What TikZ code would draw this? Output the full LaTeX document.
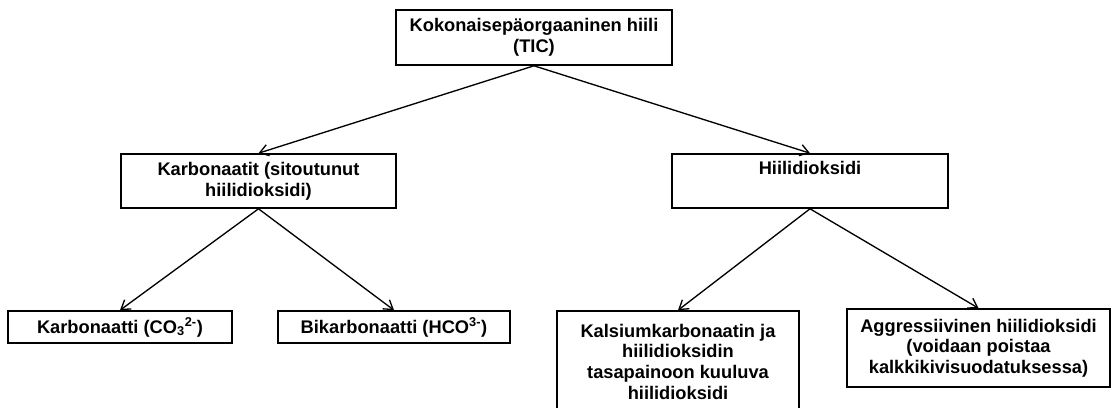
\documentclass[tikz,border=0pt]{standalone}
\usepackage{fontspec}
\setmainfont{Liberation Sans}
\usetikzlibrary{arrows.meta}
\begin{document}
\begin{tikzpicture}[x=0.75pt,y=-0.75pt,
		box/.style={draw,line width=1.2pt,inner sep=0pt,align=center,font=\fontsize{13.7}{15.5}\selectfont\bfseries},
		arr/.style={line width=1pt,-{Straight Barb[length=6.5pt,width=8.5pt]}}]
	\useasboundingbox (0,0) rectangle (1112,407);
	\node [box,minimum width=207pt,minimum height=41.25pt] (tic) at (534,37.5) {Kokonaisepäorgaaninen hiili\\(TIC)};
	\node [box,minimum width=206.25pt,minimum height=40.5pt] (carb) at (258.5,181) {Karbonaatit (sitoutunut\\hiilidioksidi)};
	\node [box,minimum width=207pt,minimum height=40.5pt] (co2) at (810,181) {Hiilidioksidi\\\strut};
	\node [box,minimum width=168pt,minimum height=24pt] (karb) at (120,327) {Karbonaatti (CO\textsubscript{3}\textsuperscript{2-})};
	\node [box,minimum width=174pt,minimum height=24pt] (bikarb) at (394,327) {Bikarbonaatti (HCO\textsuperscript{3-})};
	\node [box,minimum width=181.5pt,minimum height=76pt] (kalk) at (678,361.7) {Kalsiumkarbonaatin ja\\hiilidioksidin\\tasapainoon kuuluva\\hiilidioksidi};
	\node [box,minimum width=197.25pt,minimum height=58.5pt] (aggr) at (978.5,348) {Aggressiivinen hiilidioksidi\\(voidaan poistaa\\kalkkikivisuodatuksessa)};
	\draw [arr] (tic.south) -- (carb.north);
	\draw [arr] (tic.south) -- (co2.north);
	\draw [arr] (carb.south) -- (karb.north);
	\draw [arr] (carb.south) -- (bikarb.north);
	\draw [arr] (co2.south) -- (kalk.north);
	\draw [arr] (co2.south) -- (aggr.north);
\end{tikzpicture}
\end{document}
